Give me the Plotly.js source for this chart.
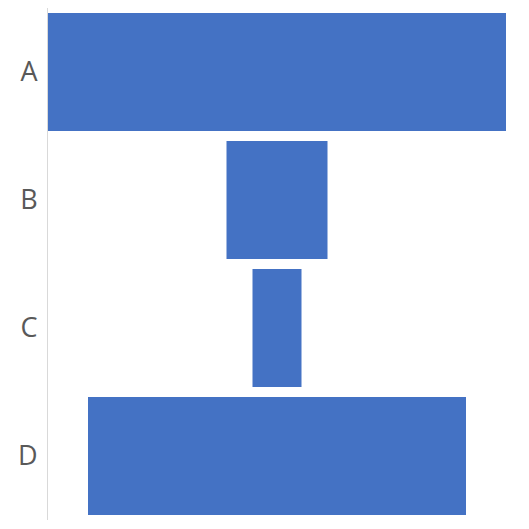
<!DOCTYPE html>
<html>
<head>
<meta charset="utf-8">
<script src="https://cdn.plot.ly/plotly-3.0.1.min.js"></script>
<style>html,body{margin:0;padding:0;background:#fff;}#chart{width:529px;height:529px;}</style>
</head>
<body>
<div id="chart"></div>
<script>
const categories = ["A", "B", "C", "D"];
const values = [458, 101, 49, 378];

const maxVal = Math.max(...values);

Plotly.newPlot('chart', [{
  type: 'funnel',
  y: categories,
  x: values,
  textinfo: 'none',
  hoverinfo: 'none',
  marker: {color: '#4472C4', line: {width: 0}},
  connector: {visible: false}
}], {
  width: 529, height: 529,
  margin: {l: 48, r: 23, t: 8, b: 9},
  paper_bgcolor: '#fff', plot_bgcolor: '#fff',
  funnelgap: 0.078,
  showlegend: false,
  xaxis: {visible: false, range: [-maxVal/2, maxVal/2], fixedrange: true},
  yaxis: {
    showline: true, linecolor: '#d9d9d9', linewidth: 1,
    ticks: '', ticklabelstandoff: 4,
    tickfont: {family: 'Open Sans, sans-serif', size: 27, color: '#595959'},
    showgrid: false, zeroline: false
  }
}, {staticPlot: true, displayModeBar: false});
</script>
</body>
</html>
